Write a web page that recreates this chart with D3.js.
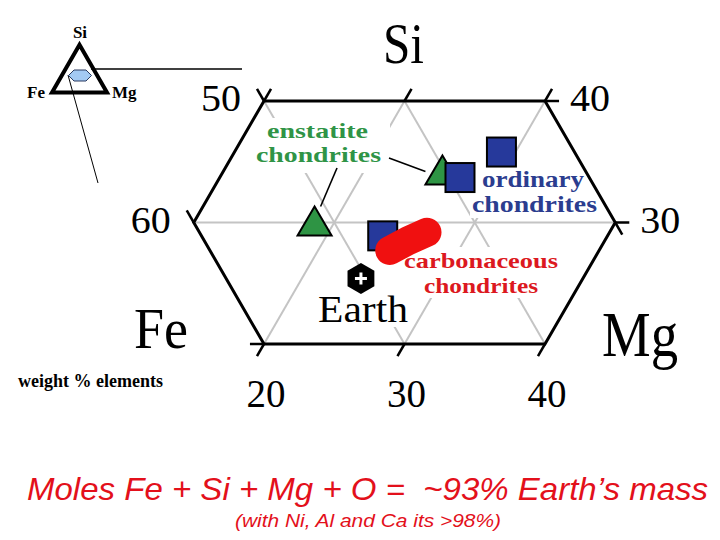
<!DOCTYPE html>
<html><head><meta charset="utf-8">
<script src="https://cdn.jsdelivr.net/npm/d3@7"></script>
<style>html,body{margin:0;padding:0;background:#fff;} svg{display:block;} text{white-space:pre;}</style>
</head><body><svg id="c" width="720" height="540"></svg>
<script>
// ---- data (weight % of Fe, Si, Mg normalised to 100) ----
const feTicks = [50, 60];
const siTicks = [40, 30];
const mgTicks = [20, 30, 40];
const siRange = [20, 40];
const mgRange = [10, 40];
const feRange = [30, 60];
const siGrid = [30];
const mgGrid = [20, 30];
const feGrid = [40, 50];
const enstatite = [{Fe:51.4, Si:30.0, Mg:18.6}, {Fe:40.2, Si:34.2, Mg:25.6}];
const ordinary = [{Fe:39.2, Si:33.7, Mg:27.1}, {Fe:35.2, Si:35.8, Mg:29.0}, {Fe:47.1, Si:28.9, Mg:24.0}];
const carbonaceous = [{Fe:47.2, Si:27.7, Mg:25.1}, {Fe:45.5, Si:28.5, Mg:26.0}, {Fe:43.8, Si:29.2, Mg:27.0}];
const earth = [{Fe:50.4, Si:25.4, Mg:24.2}];

const svg = d3.select("#c");
const serif = "'Liberation Serif','Times New Roman',serif";
const sans = "'Liberation Sans',Arial,sans-serif";

// ternary projection: x from Mg + Si/2, y from Si
const xS = d3.scaleLinear().domain([30, 50]).range([264, 545]);
const yS = d3.scaleLinear().domain([20, 40]).range([344, 101]);
const P = d => [xS(d.Mg + d.Si / 2), yS(d.Si)];
const T = (si, mg) => P({Si: si, Mg: mg, Fe: 100 - si - mg});

// boundary hexagon from the ranges
const [siMin, siMax] = siRange, [mgMin, mgMax] = mgRange, [feMin, feMax] = feRange;
const hexV = [
  T(siMax, mgMin), T(siMax, 100 - siMax - feMin), T(100 - feMin - mgMax, mgMax),
  T(siMin, mgMax), T(siMin, 100 - siMin - feMax), T(100 - feMax - mgMin, mgMin)
];
const line = d3.line();

svg.append("defs").append("clipPath").attr("id", "hexclip")
  .append("path").attr("d", line(hexV) + "Z");

// grid
const gridG = svg.append("g").attr("clip-path", "url(#hexclip)")
  .attr("stroke", "#c4c4c4").attr("stroke-width", 2).attr("fill", "none");
siGrid.forEach(s => gridG.append("path").attr("d", line([T(s, 0), T(s, 100 - s)])));
mgGrid.forEach(m => gridG.append("path").attr("d", line([T(0, m), T(100 - m, m)])));
feGrid.forEach(f => gridG.append("path").attr("d", line([T(0, 100 - f), T(100 - f, 0)])));

// white label backgrounds
const boxes = [[252, 118, 138, 55], [470, 167, 131, 51], [400, 247, 162, 51], [314, 285, 98, 42]];
svg.append("g").selectAll("rect").data(boxes).join("rect")
  .attr("x", d => d[0]).attr("y", d => d[1]).attr("width", d => d[2]).attr("height", d => d[3])
  .attr("fill", "#fff");

// outline + tick extensions
svg.append("path").attr("d", line(hexV) + "Z").attr("fill", "none")
  .attr("stroke", "#000").attr("stroke-width", 3).attr("stroke-linejoin", "miter");
const ticks = [];
mgTicks.forEach(m => ticks.push([T(siMin, m), T(siMin - 1, m)]));
[mgMin, 20, 30].forEach(m => ticks.push([T(siMax, m), T(siMax + 1, m)]));
siTicks.forEach(s => { const m = Math.min(mgMax, 100 - s - feMin); ticks.push([T(s, m), T(s, m + 1)]); });
feTicks.forEach(f => { const s = 100 - f - mgMin; ticks.push([T(s, mgMin), T(s + 1, mgMin - 1)]); });
ticks.push([T(siMin, 100 - siMin - feMax), T(siMin, 100 - siMin - feMax - 1)]);
ticks.push([T(100 - feMin - mgMax, mgMax), T(100 - feMin - mgMax - 1, mgMax + 1)]);
svg.append("g").selectAll("path").data(ticks).join("path")
  .attr("d", d => line(d)).attr("stroke", "#000").attr("stroke-width", 2.5).attr("fill", "none");

// text helper
function txt(str, x, y, size, o = {}) {
  const t = svg.append("text").attr("x", x).attr("y", y).text(str)
    .attr("font-family", o.family || serif).attr("font-size", size)
    .attr("fill", o.fill || "#000");
  if (o.weight) t.attr("font-weight", o.weight);
  if (o.style) t.attr("font-style", o.style);
  if (o.anchor) t.attr("text-anchor", o.anchor);
  if (o.len) t.attr("textLength", o.len).attr("lengthAdjust", "spacingAndGlyphs");
  return t;
}

// tick labels
feTicks.forEach(f => { const p = T(100 - f - mgMin, mgMin); txt(String(f), p[0] - 43, p[1] + 10, 37, {anchor: "middle", len: 40}); });
siTicks.forEach(s => { const m = Math.min(mgMax, 100 - s - feMin); const p = T(s, m); txt(String(s), p[0] + 45, p[1] + 10, 37, {anchor: "middle", len: 40}); });
mgTicks.forEach(m => { const p = T(siMin, m); txt(String(m), p[0] + 2, 407, 41, {anchor: "middle", len: 39}); });

// axis apex labels
txt("Si", 383, 63, 57, {len: 41});
txt("Fe", 134, 348, 56, {len: 54});
txt("Mg", 602, 356, 64, {len: 76});

// group labels
const green = "#2f9446", blue = "#2b3d8f", red = "#dc1820";
txt("enstatite", 267, 138, 22, {weight: "bold", fill: green, len: 101});
txt("chondrites", 256, 162, 22, {weight: "bold", fill: green, len: 125});
txt("ordinary", 482, 187, 24, {weight: "bold", fill: blue, len: 102});
txt("chondrites", 472, 212, 24, {weight: "bold", fill: blue, len: 125});
txt("carbonaceous", 404, 268, 22, {weight: "bold", fill: red, len: 154});
txt("chondrites", 424, 293, 22, {weight: "bold", fill: red, len: 114});
txt("Earth", 318, 322, 38, {len: 90});

// leader lines (enstatite label -> triangles)
const e0 = P(enstatite[0]), e1 = P(enstatite[1]);
svg.append("path").attr("d", line([[389, 158], [e1[0] - 17, e1[1]]])).attr("stroke", "#000").attr("stroke-width", 1.6);
svg.append("path").attr("d", line([[337, 168], [e0[0] + 6, e0[1] - 16]])).attr("stroke", "#000").attr("stroke-width", 1.6);

// marks
const triPath = "M0,-16L17,13L-17,13Z";
svg.append("g").selectAll("path").data(enstatite).join("path")
  .attr("transform", d => `translate(${P(d)})`).attr("d", triPath)
  .attr("fill", "#2e9444").attr("stroke", "#000").attr("stroke-width", 2);
svg.append("g").selectAll("rect").data(ordinary).join("rect")
  .attr("x", d => P(d)[0] - 14.5).attr("y", d => P(d)[1] - 14.5)
  .attr("width", 29).attr("height", 29)
  .attr("fill", "#26399b").attr("stroke", "#000").attr("stroke-width", 2);
svg.append("path").datum(carbonaceous).attr("d", d => line(d.map(P)))
  .attr("fill", "none").attr("stroke", "#f01010").attr("stroke-width", 29)
  .attr("stroke-linecap", "round").attr("stroke-linejoin", "round");
const hexR = 15.5;
const hexPath = line(d3.range(6).map(i => [hexR * Math.sin(i * Math.PI / 3), -hexR * Math.cos(i * Math.PI / 3)])) + "Z";
const eg = svg.append("g").selectAll("g").data(earth).join("g").attr("transform", d => `translate(${P(d)})`);
eg.append("path").attr("d", hexPath).attr("fill", "#000");
eg.append("path").attr("d", "M-6,0H6M0,-6V6").attr("stroke", "#fff").attr("stroke-width", 3);

// inset key triangle
const ix = d3.scaleLinear().domain([0, 100]).range([52, 107]);
const iy = d3.scaleLinear().domain([0, 100]).range([92.5, 92.5 - 55 * Math.sqrt(3) / 2]);
const IP = (si, mg) => [ix(mg + si / 2), iy(si)];
svg.append("path").attr("d", line([IP(100, 0), IP(0, 100), IP(0, 0)]) + "Z")
  .attr("fill", "none").attr("stroke", "#000").attr("stroke-width", 4).attr("stroke-linejoin", "miter");
svg.append("path").attr("d", line([[91, 69], [242, 69]])).attr("stroke", "#000").attr("stroke-width", 1.4);
svg.append("path").attr("d", line([[68, 75], [98, 183]])).attr("stroke", "#000").attr("stroke-width", 1);
svg.append("path").attr("transform", "translate(80,75.5)")
  .attr("d", "M-11.5,0L-6,-5.5L6,-5.5L11.5,0L6,5.5L-6,5.5Z")
  .attr("fill", "#a3c9f3").attr("stroke", "#2a3a60").attr("stroke-width", 1);
txt("Si", 80, 38, 17, {weight: "bold", anchor: "middle"});
txt("Fe", 27, 98, 17, {weight: "bold"});
txt("Mg", 112, 98, 17, {weight: "bold"});

txt("weight % elements", 18, 387, 18, {weight: "bold", len: 145});

// footnotes
txt("Moles Fe + Si + Mg + O =  ~93% Earth\u2019s mass", 27, 500, 32, {family: sans, style: "italic", fill: "#e3101b", len: 681});
txt("(with Ni, Al and Ca its >98%)", 235, 527, 19, {family: sans, style: "italic", fill: "#e3101b", len: 266});
</script></body></html>
